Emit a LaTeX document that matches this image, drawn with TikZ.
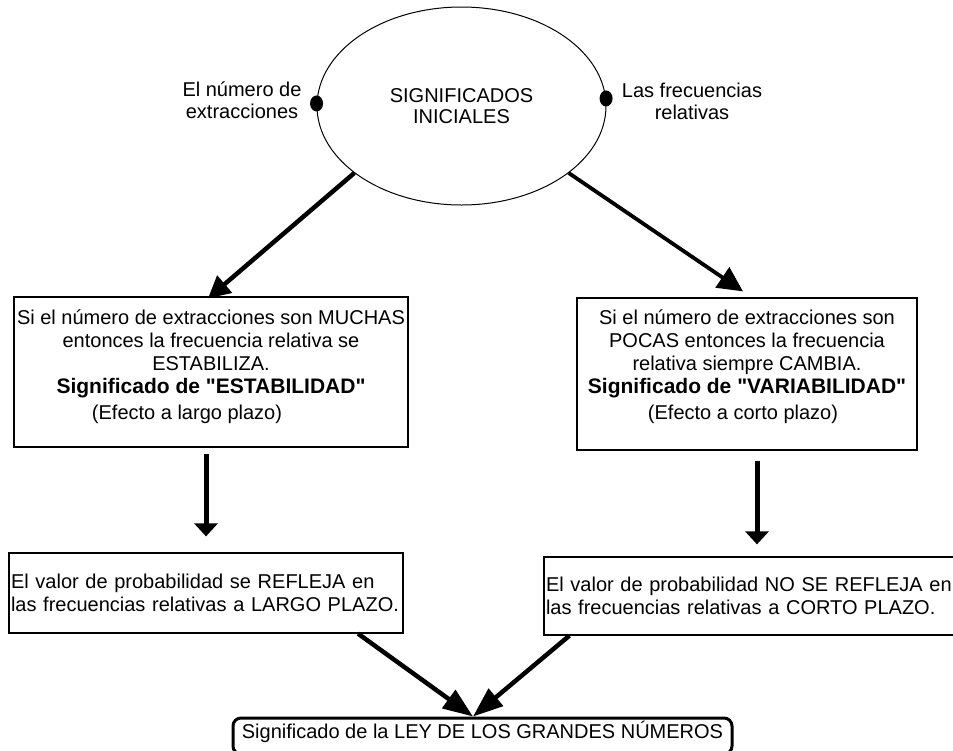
\documentclass[tikz,border=0pt]{standalone}
\usepackage{fontspec}
\setmainfont{Liberation Sans}
\usetikzlibrary{arrows.meta,shapes.geometric,calc}
\begin{document}
\begin{tikzpicture}[x=1pt,y=-1pt,
  txt/.style={font=\fontsize{20}{23}\selectfont},
  box/.style={draw, line width=1.2pt, inner sep=0pt, txt},
  ovalnode/.style={draw, ellipse, line width=1pt, inner sep=0pt, align=center, font=\fontsize{20}{21}\selectfont},
  dotnode/.style={ellipse, fill, inner sep=0pt, minimum width=13pt, minimum height=16pt},
  lbl/.style={align=center, font=\fontsize{20}{22}\selectfont},
  diagarrow/.style={line width=4.5pt, -{Triangle[length=22pt,width=22pt]}},
  vertarrow/.style={line width=5pt, -{Triangle[length=13pt,width=23pt]}},
  finarrow/.style={line width=4.5pt, -{Triangle[length=30pt,width=22pt]}},
  finbox/.style={draw, line width=3pt, rounded corners=8pt, inner sep=0pt, txt}
]
\useasboundingbox (0,0) rectangle (953,750);
\clip (0,0) rectangle (953,750);

% top ellipse
\node[ovalnode, minimum width=289pt, minimum height=198pt] (ell) at (461.5,106) {SIGNIFICADOS\\INICIALES};
\node[dotnode] (dl) at (ell.179) {};
\node[dotnode] (dr) at (ell.3) {};
\node[lbl] (ll) at (242,100) {El número de\\extracciones};
\node[lbl] (rl) at (692,101) {Las frecuencias\\relativas};

% second row
\node[box, minimum width=394pt, minimum height=150pt] (b1) at (211,372)
 {\raisebox{5pt}[\height][\depth]{\begin{tabular}{@{}c@{}}
 Si el número de extracciones son MUCHAS\\
 entonces la frecuencia relativa se\hspace{14pt}\\
 ESTABILIZA.\hspace{44pt}\\
 {\fontsize{21}{23}\selectfont\bfseries Significado de \textquotedbl ESTABILIDAD\textquotedbl}\hspace{8pt}\\[3pt]
 (Efecto a largo plazo)\hspace{48pt}
 \end{tabular}}};

\node[box, minimum width=340pt, minimum height=152pt] (b2) at (747,374)
 {\raisebox{7pt}[\height][\depth]{\begin{tabular}{@{}c@{}}
 Si el número de extracciones son\\
 POCAS entonces la frecuencia\\
 relativa siempre CAMBIA.\\
 {\fontsize{21}{23}\selectfont\bfseries Significado de \textquotedbl VARIABILIDAD\textquotedbl}\hspace{-6pt}\\[3pt]
 (Efecto a corto plazo)\hspace{8pt}
 \end{tabular}}\hspace{12pt}};

% third row
\node[box, minimum width=394pt, minimum height=80pt, text width=390pt, align=left] (b3) at (206,593)
 {El valor de probabilidad se REFLEJA en\\las frecuencias relativas a LARGO PLAZO.};

\node[box, minimum width=416pt, minimum height=78pt, text width=412pt, align=left] (b4) at (752,596)
 {El valor de probabilidad NO SE REFLEJA en\\las frecuencias relativas a CORTO PLAZO.};

% final
\node[finbox, minimum width=499pt, minimum height=36pt] (fin) at (482.5,736)
 {\raisebox{4pt}[\height][\depth]{Significado de la LEY DE LOS GRANDES NÚMEROS}};

% connectors
\draw[diagarrow] (ell.212) -- ($(b1.north)+(-3,2)$);
\draw[diagarrow, line width=3.8pt, -{Triangle[length=25pt,width=24pt]}] (ell.328) -- ($(b2.north)+(-4,-6)$);
\draw[vertarrow] ($(b1.south -| b3.north)+(0,6)$) -- ($(b3.north)+(0,-16)$);
\draw[vertarrow] ($(b2.south)+(10,10)$) -- ($(b2.south |- b4.north)+(10,-12)$);
\draw[finarrow] ($(b3.south)+(152,0)$) -- ($(fin.north)+(-9.5,0)$);
\draw[finarrow] ($(b4.south west)+(26,0)$) -- ($(fin.north)+(-9.5,0)$);
\end{tikzpicture}
\end{document}
